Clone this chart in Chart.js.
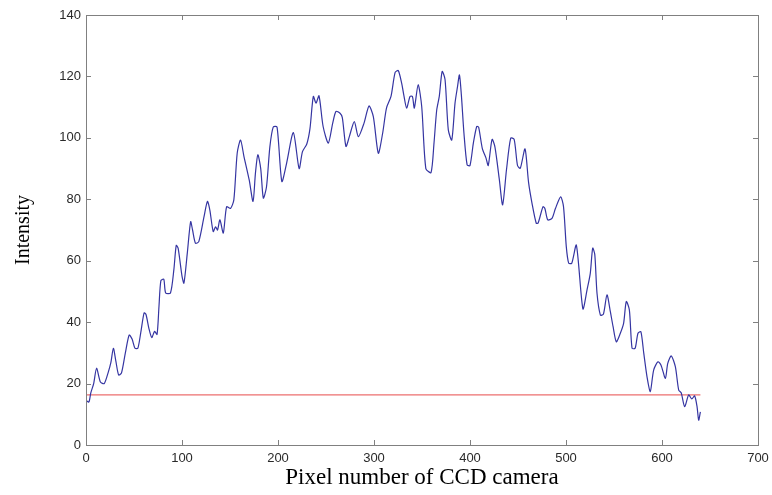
<!DOCTYPE html>
<html>
<head>
<meta charset="utf-8">
<script src="https://cdn.jsdelivr.net/npm/chart.js@4"></script>
<style>
  html, body { margin: 0; padding: 0; background: #fff; }
  #wrap { width: 772px; height: 495px; }
</style>
</head>
<body>
<div id="wrap"><canvas id="chart" width="772" height="495"></canvas></div>
<script>
// pixel index along the CCD line
const pixelNumbers = [
  0, 3, 5, 8, 11, 15, 19, 23, 26, 28.5, 31, 34, 37, 41, 45, 48, 51, 54, 57, 60.5,
  62.5, 65.5, 68.5, 71.5, 74, 76, 78, 81, 83, 88, 91.5, 94, 96, 100, 102, 105.5,
  109, 111, 114, 117.5, 123, 126.5, 129, 132.5, 135, 137, 139.5, 143, 146.5, 150.5,
  154, 157.5, 161, 164.5, 170, 174, 176.5, 179, 182, 184.7, 188, 191.5, 195, 199,
  204, 209, 216, 222, 225.5, 230, 233.3, 236.8, 239.6, 242.7, 247, 252.4, 257,
  260.4, 264.6, 267, 270.8, 274.3, 279.5, 283.7, 289.6, 294.8, 299.3, 304.5, 309,
  313, 317.7, 322, 325.3, 328.8, 331, 334, 337.5, 340, 342, 346, 349.7, 354, 359.4,
  362.5, 365.3, 368, 371, 374, 377.4, 381, 384.4, 387, 389, 391, 393.7, 397, 400,
  403.5, 407, 409, 412.8, 416.7, 419, 423, 426, 430.6, 434, 438, 442.4, 446, 449.5,
  452.4, 457.3, 461, 464.6, 469, 471, 476, 478, 481, 485.4, 489, 494.4, 497.4,
  500.3, 502.8, 506, 510.8, 517.6, 521.9, 525.3, 527.8, 530, 532.3, 535.8, 539,
  542.7, 546.2, 549, 552.4, 556.6, 560, 562.8, 566, 568.8, 572, 575, 578, 581,
  584.4, 587.8, 591.3, 595.8, 599, 603.5, 606, 609.7, 613.9, 617.4, 620, 623.6,
  627.8, 631, 634, 636.5, 638.2, 640
];
const intensities = [
  14.5, 14, 17, 20, 25, 20.5, 20, 23.5, 27, 31.5, 27.5, 22.8, 23.5, 30, 35.8, 34.5, 31.5, 31.5, 36.5, 43,
  42.5, 38, 35, 37, 36, 45, 53.5, 54, 49.5, 49.5, 57, 65, 64, 55, 52.7, 62.4,
  72.7, 70, 65.7, 66.2, 74.4, 79.3, 76.5, 69.5, 71, 70, 73.3, 69, 77.6, 77,
  79.8, 95, 99.3, 94, 86.3, 79.3, 88.5, 94.5, 90, 80.4, 84, 97, 103.5, 103.5,
  85.8, 91.8, 101.7, 90, 95.5, 98, 103, 113.5, 111.3, 113.7, 103.7, 98.3, 104.8,
  108.6, 108, 106.6, 97.2, 100.4, 105.3, 100.4, 104.8, 110.4, 106.9, 95, 101.5,
  109.7, 113.5, 121.3, 121.9, 117.8, 114, 109.7, 113.5, 113.5, 109.7, 117.3, 110.2, 90, 88.7,
  98.3, 109, 113.5, 121.6, 119, 102.6, 99.3, 111.3, 116.7, 120.5, 114, 101.5, 91.2, 91,
  98.3, 103.7, 103.5, 96.6, 93.4, 91, 99.5, 97, 86.3, 78.2, 89.6, 99.9, 99.5, 91,
  90.1, 96.4, 85.5, 78.7, 72.2, 72.3, 77.6, 77, 73.3, 73.8, 77, 80.8, 77.6,
  64.6, 59.2, 59.2, 65.1, 44.3, 50.5, 55.9, 64.1, 62, 49.4, 42.3, 42.6,
  48.9, 43.4, 38.6, 33.6, 36.4, 39.6, 46.7, 44, 31.5, 31.5, 36.4, 36.9, 29.9,
  22.2, 17.4, 24.4, 27.1, 26, 21.7, 26.6, 29, 25.5, 17.9, 17, 12.5,
  16.3, 15, 16, 12.5, 8.1, 10.8
];
// threshold level drawn in red
const thresholdX = [0, 640];
const thresholdY = [16.3, 16.3];

const xTicks = [0, 100, 200, 300, 400, 500, 600, 700];
const yTicks = [0, 20, 40, 60, 80, 100, 120, 140];

const toPoints = (xs, ys) => xs.map((x, i) => ({x, y: ys[i]}));

// MATLAB-style box with inward ticks on all four sides
const boxPlugin = {
  id: "matlabBox",
  afterDraw(chart) {
    const {ctx, chartArea: a, scales} = chart;
    const len = 5;
    ctx.save();
    ctx.strokeStyle = "#808080";
    ctx.lineWidth = 1;
    ctx.strokeRect(Math.round(a.left) + 0.5, Math.round(a.top) + 0.5,
      Math.round(a.right - a.left), Math.round(a.bottom - a.top));
    ctx.beginPath();
    xTicks.forEach(v => {
      const px = Math.round(scales.x.getPixelForValue(v)) + 0.5;
      ctx.moveTo(px, a.bottom); ctx.lineTo(px, a.bottom - len);
      ctx.moveTo(px, a.top); ctx.lineTo(px, a.top + len);
    });
    yTicks.forEach(v => {
      const py = Math.round(scales.y.getPixelForValue(v)) + 0.5;
      ctx.moveTo(a.left, py); ctx.lineTo(a.left + len, py);
      ctx.moveTo(a.right, py); ctx.lineTo(a.right - len, py);
    });
    ctx.stroke();
    ctx.restore();
  }
};

const tickFont = {family: "'Liberation Sans', Arial, sans-serif", size: 13};

new Chart(document.getElementById("chart"), {
  type: "line",
  data: {
    datasets: [
      {
        label: "Intensity",
        data: toPoints(pixelNumbers, intensities),
        borderColor: "#3535a2",
        borderWidth: 1.2,
        pointRadius: 0,
        tension: 0.25
      },
      {
        label: "Threshold",
        data: toPoints(thresholdX, thresholdY),
        borderColor: "#ec6f6f",
        borderWidth: 1.3,
        pointRadius: 0
      }
    ]
  },
  options: {
    responsive: false,
    animation: false,
    layout: {padding: {top: 15, right: 14, left: 0, bottom: 0}},
    plugins: {legend: {display: false}, tooltip: {enabled: false}},
    scales: {
      x: {
        type: "linear",
        min: 0,
        max: 700,
        afterFit: (scale) => {
          scale.height = 50
          scale.paddingLeft = 0
          scale.paddingRight = 0
        },
        afterBuildTicks: (scale) => { scale.ticks = xTicks.map(value => ({value})) },
        grid: {display: false, drawTicks: false},
        border: {display: false},
        ticks: {font: tickFont, color: "#2a2a2a", padding: 6, maxRotation: 0},
        title: {
          display: true,
          text: "Pixel number of CCD camera",
          color: "#000",
          font: {family: "'Liberation Serif', 'Times New Roman', serif", size: 23},
          padding: {top: 0, bottom: 3}
        }
      },
      y: {
        min: 0,
        max: 140,
        afterFit: (scale) => { scale.width = 86 },
        afterBuildTicks: (scale) => { scale.ticks = yTicks.map(value => ({value})) },
        grid: {display: false, drawTicks: false},
        border: {display: false},
        ticks: {font: tickFont, color: "#2a2a2a", padding: 5},
        title: {
          display: true,
          text: "Intensity",
          color: "#000",
          font: {family: "'Liberation Serif', 'Times New Roman', serif", size: 20},
          padding: {top: 12, bottom: 0}
        }
      }
    }
  },
  plugins: [boxPlugin]
});
</script>
</body>
</html>
